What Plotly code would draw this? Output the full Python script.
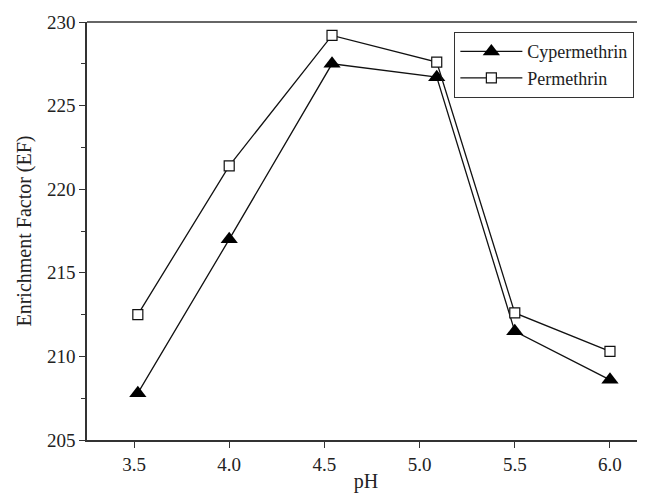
import plotly.graph_objects as go

ph_cyper = [3.52, 4.0, 4.54, 5.09, 5.5, 6.0]
ef_cyper = [207.8, 217.0, 227.5, 226.7, 211.5, 208.6]
ph_per = [3.52, 4.0, 4.54, 5.09, 5.5, 6.0]
ef_per = [212.5, 221.4, 229.2, 227.6, 212.6, 210.3]
x_ticks = [3.5, 4.0, 4.5, 5.0, 5.5, 6.0]
x_tick_labels = ["3.5", "4.0", "4.5", "5.0", "5.5", "6.0"]
y_ticks = [205, 210, 215, 220, 225, 230]

font = "Liberation Serif, Times New Roman, serif"

fig = go.Figure()
fig.add_trace(go.Scatter(
    x=ph_cyper, y=ef_cyper, name="Cypermethrin", mode="lines+markers",
    line=dict(color="#111111", width=1.3),
    marker=dict(symbol="triangle-up", size=15, color="#000000",
                line=dict(color="#000000", width=0)),
))
fig.add_trace(go.Scatter(
    x=ph_per, y=ef_per, name="Permethrin", mode="lines+markers",
    line=dict(color="#111111", width=1.3),
    marker=dict(symbol="square", size=10, color="#ffffff",
                line=dict(color="#111111", width=1.2)),
))

fig.update_layout(
    width=637, height=485,
    margin=dict(l=79, r=0, t=14, b=53),
    paper_bgcolor="white", plot_bgcolor="white",
    font=dict(family=font, size=18, color="#222222"),
    showlegend=True,
    legend=dict(
        x=0.658, y=0.976, xanchor="left", yanchor="top",
        bordercolor="#333333", borderwidth=1.2, bgcolor="white",
        font=dict(family=font, size=18, color="#222222"),
        tracegroupgap=0, itemwidth=62,
    ),
    xaxis=dict(
        range=[3.253, 6.184],
        tickvals=x_ticks, ticktext=x_tick_labels,
        ticks="outside", ticklen=6, tickwidth=1.3, tickcolor="#333333",
        showline=True, linecolor="#333333", linewidth=1.5, mirror=False,
        showgrid=False, zeroline=False, automargin=False,
        title=dict(text="pH", font=dict(family=font, size=20), standoff=6),
        tickfont=dict(family=font, size=19),
    ),
    yaxis=dict(
        range=[205, 230],
        tickvals=y_ticks,
        ticks="outside", ticklen=6, tickwidth=1.3, tickcolor="#333333",
        minor=dict(dtick=2.5, ticks="outside", ticklen=4, tickcolor="#333333", tickwidth=1.2, showgrid=False),
        showline=True, linecolor="#333333", linewidth=1.5,
        showgrid=False, zeroline=False, automargin=False,
        title=dict(text="Enrichment Factor (EF)", font=dict(family=font, size=20), standoff=10),
        tickfont=dict(family=font, size=19),
    ),
    shapes=[dict(type="line", xref="paper", yref="paper", x0=0, x1=1, y0=1, y1=1,
                 line=dict(color="#333333", width=1.5))],
)

fig.write_html("out.html")
